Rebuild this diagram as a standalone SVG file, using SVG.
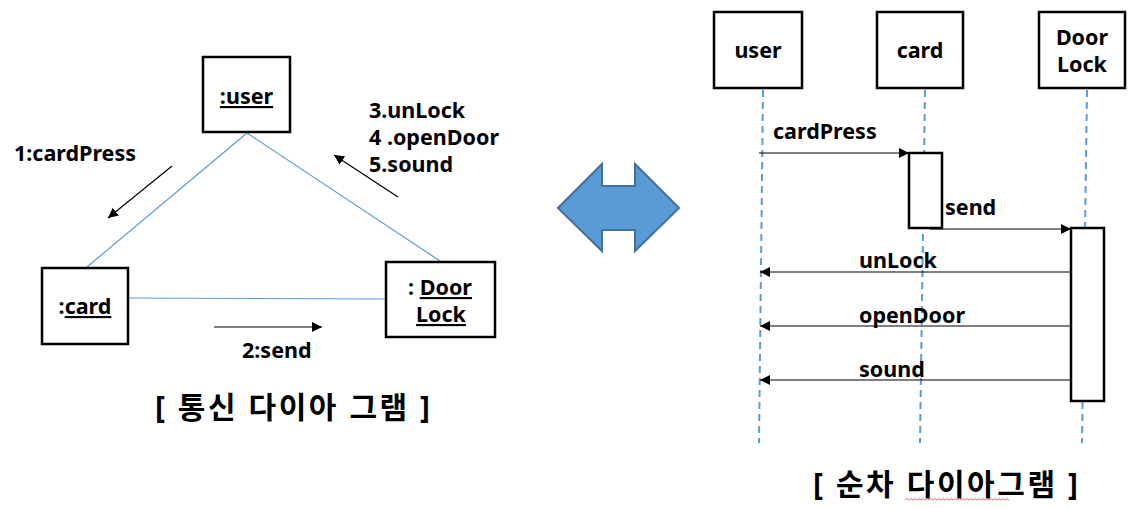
<svg xmlns="http://www.w3.org/2000/svg" width="1136" height="509" viewBox="0 0 1136 509">
<style>
text{font-family:"Noto Sans","Noto Sans CJK KR",sans-serif;font-weight:bold;fill:#000}
.t{font-size:21.5px}
.big{font-size:30px}
.u{text-decoration:underline}
.box{fill:#fff;stroke:#000;stroke-width:2.5}
.link{stroke:#5B9BD5;stroke-width:1.2;fill:none}
.msg{stroke:#000;stroke-width:1.2;fill:none;marker-end:url(#ah)}
.life{stroke:#5B9BD5;stroke-width:2;stroke-dasharray:7,5;fill:none}
</style>
<defs>
<marker id="ah" viewBox="0 0 10 10" refX="10" refY="5" markerWidth="10" markerHeight="10" markerUnits="userSpaceOnUse" orient="auto"><path d="M0,0 L10,5 L0,10 z" fill="#000"/></marker>
</defs>
<rect width="1136" height="509" fill="#fff"/>

<!-- communication diagram -->
<g id="comm-links">
<line class="link" x1="247" y1="133" x2="87" y2="267"/>
<line class="link" x1="247" y1="133" x2="440" y2="261"/>
<line class="link" x1="128" y1="298" x2="386" y2="299"/>
</g>
<g id="comm-msgs">
<line class="msg" x1="172" y1="166" x2="108" y2="218"/>
<line class="msg" x1="398" y1="197" x2="334" y2="155"/>
<line class="msg" x1="214" y1="327" x2="322" y2="327"/>
<text class="t" x="14" y="161">1:cardPress</text>
<text class="t" x="369" y="118">3.unLock</text>
<text class="t" x="369" y="145">4 .openDoor</text>
<text class="t" x="369" y="172">5.sound</text>
<text class="t" x="242" y="358">2:send</text>
</g>
<g id="c-user">
<rect class="box" x="203" y="57" width="87" height="75"/>
<text class="t u" x="246.5" y="104" text-anchor="middle">:user</text>
</g>
<g id="c-card">
<rect class="box" x="42" y="268" width="86" height="76"/>
<text class="t" x="85" y="314" text-anchor="middle">:<tspan class="u">card</tspan></text>
</g>
<g id="c-doorlock">
<rect class="box" x="386" y="262" width="109" height="75"/>
<text class="t" x="440" y="295" text-anchor="middle">: <tspan class="u">Door</tspan></text>
<text class="t u" x="441" y="322" text-anchor="middle">Lock</text>
</g>
<text class="big" x="155" y="418" textLength="275" lengthAdjust="spacing">[ 통신 다이아 그램 ]</text>

<!-- double arrow -->
<g id="double-arrow">
<polygon points="558,208 602,164 602,186 635,186 635,164 679,208 635,251 635,230 602,230 602,251" fill="#5B9BD5" stroke="#41719C" stroke-width="2"/>
</g>

<!-- sequence diagram -->
<g id="lifelines">
<line class="life" x1="763" y1="90" x2="759" y2="443"/>
<line class="life" x1="925" y1="90" x2="920" y2="443"/>
<line class="life" x1="1087" y1="90" x2="1082" y2="443"/>
</g>
<g id="s-user">
<rect class="box" x="714" y="12" width="88" height="76"/>
<text class="t" x="758" y="58" text-anchor="middle">user</text>
</g>
<g id="s-card">
<rect class="box" x="877" y="12" width="86" height="76"/>
<text class="t" x="920" y="58" text-anchor="middle">card</text>
</g>
<g id="s-doorlock">
<rect class="box" x="1039" y="12" width="86" height="76"/>
<text class="t" x="1082" y="45" text-anchor="middle">Door</text>
<text class="t" x="1082" y="72" text-anchor="middle">Lock</text>
</g>
<g id="activations">
<rect class="box" x="909" y="153" width="33" height="75" stroke-width="2"/>
<rect class="box" x="1071" y="228" width="33" height="173" stroke-width="2"/>
</g>
<g id="seq-msgs">
<line class="msg" x1="759" y1="153" x2="909" y2="153"/>
<line class="msg" x1="930" y1="229" x2="1071" y2="229"/>
<line class="msg" x1="1071" y1="272" x2="760" y2="272"/>
<line class="msg" x1="1071" y1="326" x2="760" y2="326"/>
<line class="msg" x1="1071" y1="380" x2="760" y2="380"/>
<text class="t" x="773" y="139">cardPress</text>
<text class="t" x="945" y="215">send</text>
<text class="t" x="859" y="268">unLock</text>
<text class="t" x="859" y="323">openDoor</text>
<text class="t" x="859" y="377">sound</text>
</g>
<text class="big" x="813" y="495" textLength="265" lengthAdjust="spacing">[ 순차 다이아그램 ]</text>
<path d="M905,500 l2,-1.5 l2,1.5 l2,-1.5 l2,1.5 l2,-1.5 l2,1.5 l2,-1.5 l2,1.5 l2,-1.5 l2,1.5 l2,-1.5 l2,1.5 l2,-1.5 l2,1.5 l2,-1.5 l2,1.5 l2,-1.5 l2,1.5 l2,-1.5 l2,1.5 l2,-1.5 l2,1.5 l2,-1.5 l2,1.5 l2,-1.5 l2,1.5 l2,-1.5 l2,1.5 l2,-1.5 l2,1.5 l2,-1.5 l2,1.5 l2,-1.5 l2,1.5 l2,-1.5 l2,1.5 l2,-1.5 l2,1.5 l2,-1.5 l2,1.5 l2,-1.5 l2,1.5 l2,-1.5 l2,1.5 l2,-1.5 l2,1.5 l2,-1.5 l2,1.5 l2,-1.5 l2,1.5 l2,-1.5 l2,1.5" fill="none" stroke="#E05050" stroke-width="0.8"/>
</svg>
